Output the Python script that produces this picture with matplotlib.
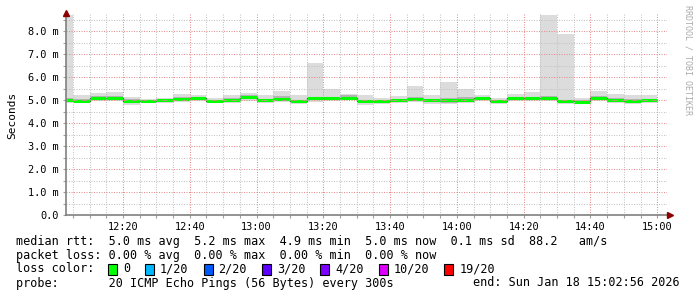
import datetime as dt
import numpy as np
import matplotlib
matplotlib.use("Agg")
import matplotlib.pyplot as plt
import matplotlib.dates as mdates
from matplotlib.patches import Rectangle

# ---------------- data ----------------
start_time = "2026-01-18 12:02:56"
end_time = "2026-01-18 15:02:56"
first_bin = "2026-01-18 12:00:00"
step_minutes = 5

median = [4.98, 4.97, 5.08, 5.08, 4.94, 4.96, 5.01, 5.03, 5.08, 4.95, 4.99, 5.13,
          4.98, 5.05, 4.94, 5.08, 5.08, 5.08, 4.94, 4.94, 4.98, 5.04, 4.98, 4.98,
          4.98, 5.07, 4.94, 5.08, 5.08, 5.08, 4.94, 4.93, 5.07, 4.98, 4.97, 4.98]
smoke_hi = [8.70, 5.22, 5.29, 5.33, 5.14, 5.03, 5.07, 5.25, 5.22, 5.10, 5.20, 5.32,
            5.20, 5.38, 5.20, 6.60, 5.48, 5.25, 5.22, 5.10, 5.17, 5.60, 5.20, 5.77,
            5.49, 5.23, 5.10, 5.25, 5.36, 8.70, 7.85, 5.10, 5.40, 5.25, 5.20, 5.22]
smoke_lo = [4.88, 4.87, 4.95, 4.96, 4.78, 4.85, 4.88, 4.90, 4.97, 4.85, 4.88, 4.96,
            4.86, 4.93, 4.83, 4.93, 4.97, 4.98, 4.80, 4.84, 4.88, 4.90, 4.82, 4.82,
            4.85, 4.95, 4.82, 4.96, 4.95, 4.96, 4.84, 4.83, 4.95, 4.86, 4.84, 4.86]
inner_hi = [5.08, 5.05, 5.16, 5.18, 5.06, 5.00, 5.05, 5.14, 5.12, 5.01, 5.08, 5.20,
            5.05, 5.16, 5.02, 5.15, 5.15, 5.20, 5.02, 5.00, 5.06, 5.12, 5.05, 5.08,
            5.14, 5.14, 5.00, 5.14, 5.15, 5.17, 5.02, 4.99, 5.16, 5.08, 5.03, 5.06]
inner_lo = [4.93, 4.90, 5.00, 5.02, 4.86, 4.91, 4.94, 4.96, 5.02, 4.90, 4.93, 5.05,
            4.92, 4.98, 4.88, 4.99, 5.02, 5.04, 4.87, 4.89, 4.92, 4.97, 4.90, 4.88,
            4.90, 5.00, 4.88, 5.01, 5.00, 5.01, 4.89, 4.88, 5.00, 4.91, 4.90, 4.91]

ytick_values = [0, 1, 2, 3, 4, 5, 6, 7, 8]
ytick_labels = ["0.0", "1.0 m", "2.0 m", "3.0 m", "4.0 m", "5.0 m", "6.0 m", "7.0 m", "8.0 m"]
y_max = 8.8

legend_lines = [
    "median rtt:  5.0 ms avg  5.2 ms max  4.9 ms min  5.0 ms now  0.1 ms sd  88.2   am/s",
    "packet loss: 0.00 % avg  0.00 % max  0.00 % min  0.00 % now",
    "loss color:",
    "probe:       20 ICMP Echo Pings (56 Bytes) every 300s",
]
end_label = "end: Sun Jan 18 15:02:56 2026"
loss_labels = ["0", "1/20", "2/20", "3/20", "4/20", "10/20", "19/20"]
loss_colors = ["#00ff00", "#00b8ff", "#0059ff", "#5e00ff", "#7e00ff", "#dd00ff", "#ff0000"]
watermark = "RRDTOOL / TOBI OETIKER"
ylabel = "Seconds"

# ---------------- figure ----------------
W, H = 697, 297
fig = plt.figure(figsize=(W / 100, H / 100), dpi=100, facecolor="white")
mono = "DejaVu Sans Mono"

x0_px, x1_px, ybot_px, ytop_px = 66, 667, 215, 12.6
ax = fig.add_axes([x0_px / W, (H - ybot_px) / H, (x1_px - x0_px) / W, (ybot_px - ytop_px) / H])
ax.set_facecolor("white")

fmt = "%Y-%m-%d %H:%M:%S"
t_start = dt.datetime.strptime(start_time, fmt)
t_end = dt.datetime.strptime(end_time, fmt)
t_first = dt.datetime.strptime(first_bin, fmt)
n = len(median)
bin_starts = [t_first + dt.timedelta(minutes=step_minutes * i) for i in range(n)]
bs = mdates.date2num(bin_starts)
width = step_minutes / 1440.0
be = bs + width

hi = np.array(smoke_hi); lo = np.array(smoke_lo)
ihi = np.array(inner_hi); ilo = np.array(inner_lo)
med = np.array(median)

ax.bar(bs, hi - lo, bottom=lo, width=width, align="edge", color="#dcdcdc", linewidth=0, zorder=1)
ax.bar(bs, ihi - ilo, bottom=ilo, width=width, align="edge", color="#b4b4b4", linewidth=0, zorder=1.1)
ax.bar(bs, (med - ilo) * 0.5, bottom=ilo + (med - ilo) * 0.5, width=width, align="edge",
       color="#8c8c8c", linewidth=0, zorder=1.2)
ax.step(np.append(bs, be[-1]), np.append(med, med[-1]), where="post", color="#303030", lw=0.9, zorder=1.5)
ax.hlines(med, bs, be, color="#00ff00", lw=2.2, zorder=1.8)

ax.set_xlim(mdates.date2num(t_start), mdates.date2num(t_end))
ax.set_ylim(0, y_max)

ax.xaxis.set_major_locator(mdates.MinuteLocator(byminute=[0, 20, 40]))
ax.xaxis.set_minor_locator(mdates.MinuteLocator(byminute=list(range(0, 60, 5))))
ax.xaxis.set_major_formatter(mdates.DateFormatter("%H:%M"))
ax.set_yticks(ytick_values)
ax.set_yticks([v + 0.5 for v in ytick_values], minor=True)
ax.set_yticklabels(ytick_labels)

ax.set_axisbelow(False)
ax.grid(which="minor", color="#c4c4c4", linestyle=(0, (1, 1.4)), lw=0.75)
ax.grid(which="major", color="#e89090", linestyle=(0, (1, 1.4)), lw=0.75)

for s in ["top", "right"]:
    ax.spines[s].set_visible(False)
for s in ["left", "bottom"]:
    ax.spines[s].set_color("#808080")
    ax.spines[s].set_linewidth(1.2)
    ax.spines[s].set_zorder(3)

ax.tick_params(which="both", length=2, color="#a0a0a0", width=0.8)
ax.tick_params(axis="x", labelsize=7.4, pad=3)
ax.tick_params(axis="y", labelsize=7.4, pad=3)
for lab in ax.get_xticklabels() + ax.get_yticklabels():
    lab.set_fontfamily(mono)
    lab.set_color("#000000")

# arrows
ax.plot([0], [1], marker="^", color="#8b0000", markersize=4.5, transform=ax.transAxes, clip_on=False, zorder=5)
ax.plot([1.005], [0], marker=">", color="#8b0000", markersize=4.5, transform=ax.transAxes, clip_on=False, zorder=5)

# y label
fig.text(12 / W, 1 - 115 / H, ylabel, rotation=90, ha="center", va="center",
         fontsize=8, family=mono)

# watermark
fig.text(688 / W, 1 - 5 / H, watermark, rotation=270, ha="center", va="top",
         fontsize=6, family=mono, color="#ababab")

# legend
line_y = [241, 255, 269, 283]
for txt, y in zip(legend_lines, line_y):
    fig.text(16 / W, 1 - y / H, txt, ha="left", va="center", fontsize=8.5, family=mono)
fig.text(680 / W, 1 - line_y[3] / H, end_label, ha="right", va="center", fontsize=8.5, family=mono)

char_w = 7.1
x = 108.0
for lab, col in zip(loss_labels, loss_colors):
    fig.patches.append(Rectangle((x / W, 1 - (line_y[2] + 5.5) / H), 9 / W, 11 / H,
                                 transform=fig.transFigure, facecolor=col, edgecolor="black", lw=0.8))
    fig.text((x + 15) / W, 1 - line_y[2] / H, lab, ha="left", va="center", fontsize=8.5, family=mono)
    x = x + 15 + len(lab) * char_w + 15

fig.savefig("out.png", dpi=100, facecolor="white")
